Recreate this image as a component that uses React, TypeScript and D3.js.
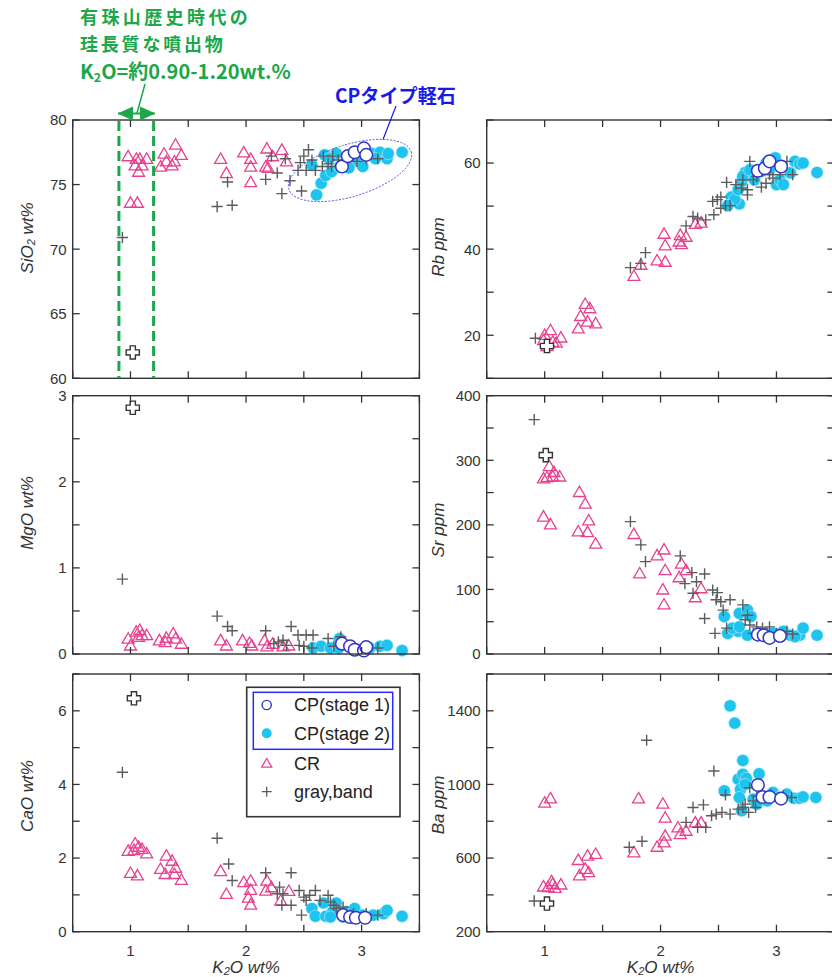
import React from "react";
import * as d3 from "d3";

const W = 832;
const H = 977;

// ---------- axis ticks ----------
const kTicks = [0.5, 1, 1.5, 2, 2.5, 3, 3.5];
const kTickLabels = [1, 2, 3];
const sio2Ticks = [60, 65, 70, 75, 80];
const sio2Labels = [60, 65, 70, 75, 80];
const mgoTicks = [0, 0.5, 1, 1.5, 2, 2.5, 3];
const mgoLabels = [0, 1, 2, 3];
const caoTicks = [0, 1, 2, 3, 4, 5, 6, 7];
const caoLabels = [0, 2, 4, 6];
const rbTicks = [10, 20, 30, 40, 50, 60, 70];
const rbLabels = [20, 40, 60];
const srTicks = [0, 50, 100, 150, 200, 250, 300, 350, 400];
const srLabels = [0, 100, 200, 300, 400];
const baTicks = [200, 400, 600, 800, 1000, 1200, 1400, 1600];
const baLabels = [200, 600, 1000, 1400];

const legendNames = ["CP(stage 1)", "CP(stage 2)", "CR", "gray,band"];

type P = [number, number];

// ---------- SiO2 ----------
const sio2CR: P[] = [[0.98,77.2],[1.05,77.0],[1.08,77.0],[1.04,76.5],[1.10,76.5],[1.07,76.0],[1.14,77.0],[1.0,73.6],[1.06,73.6],[1.26,76.4],[1.29,77.4],[1.31,76.8],[1.36,76.5],[1.38,76.8],[1.39,78.1],[1.44,77.3],[1.78,77.0],[1.83,75.9],[1.98,77.5],[2.04,77.0],[2.04,76.4],[2.04,75.2],[2.18,77.8],[2.17,76.4],[2.19,76.3],[2.23,77.2],[2.31,77.7],[2.35,76.8]];
const sio2GB: P[] = [[0.93,70.9],[1.75,73.3],[1.88,73.4],[1.84,75.2],[2.17,75.4],[2.27,75.9],[2.31,74.3],[2.38,75.3],[2.48,74.5],[2.22,77.2],[2.34,77.0],[2.47,76.7],[2.50,77.2],[2.54,77.7],[2.45,76.1],[2.52,76.1],[2.60,76.1],[2.57,76.9],[2.67,77.2],[2.71,76.6],[2.74,76.4],[2.75,77.2],[2.80,76.9],[2.87,77.2],[2.93,77.4],[2.96,76.8],[3.04,77.0],[3.14,77.0],[2.66,76.4]];
const sio2CP2: P[] = [[2.61,74.2],[2.65,75.1],[2.69,75.7],[2.74,76.0],[2.57,76.5],[2.68,77.3],[2.78,77.4],[2.87,76.6],[2.91,77.0],[2.97,76.8],[3.01,76.4],[3.04,77.3],[3.09,77.4],[3.16,77.5],[3.22,77.0],[3.23,77.4],[3.35,77.5],[2.81,76.4],[2.72,77.0],[2.89,76.3],[3.12,77.0]];
const sio2CP1: P[] = [[2.83,76.4],[2.88,77.2],[2.94,77.5],[3.02,77.8],[3.04,77.3]];
const sio2SP: P[] = [[1.02,62.0]];

// ---------- MgO ----------
const mgoCR: P[] = [[0.98,0.18],[1.0,0.10],[1.05,0.26],[1.07,0.20],[1.08,0.28],[1.10,0.22],[1.14,0.22],[1.25,0.16],[1.30,0.14],[1.37,0.24],[1.39,0.18],[1.44,0.12],[1.31,0.19],[1.78,0.16],[1.83,0.10],[1.97,0.16],[2.03,0.13],[2.05,0.10],[2.16,0.16],[2.18,0.09],[2.23,0.12],[2.32,0.09],[2.37,0.10]];
const mgoGB: P[] = [[0.93,0.87],[1.75,0.44],[1.84,0.32],[1.88,0.27],[2.17,0.27],[2.39,0.32],[2.24,0.12],[2.28,0.14],[2.32,0.16],[2.45,0.22],[2.52,0.22],[2.58,0.22],[2.46,0.10],[2.50,0.09],[2.57,0.07],[2.71,0.18],[2.82,0.20],[2.76,0.09],[3.14,0.07],[2.35,0.10]];
const mgoCP2: P[] = [[2.58,0.07],[2.65,0.09],[2.73,0.07],[2.81,0.18],[2.90,0.09],[2.97,0.05],[3.07,0.07],[3.16,0.09],[3.22,0.10],[3.35,0.04],[2.80,0.07]];
const mgoCP1: P[] = [[2.83,0.12],[2.90,0.09],[2.94,0.05],[3.02,0.04],[3.04,0.08]];
const mgoSP: P[] = [[1.02,2.86]];

// ---------- CaO ----------
const caoCR: P[] = [[0.98,2.20],[1.04,2.40],[1.07,2.31],[1.10,2.25],[1.14,2.13],[1.0,1.60],[1.06,1.53],[1.03,2.22],[1.26,1.71],[1.31,2.07],[1.30,1.57],[1.36,1.93],[1.39,1.74],[1.38,1.57],[1.44,1.41],[1.78,1.65],[1.83,1.03],[1.98,1.35],[2.04,1.39],[2.04,1.14],[2.02,0.93],[2.04,0.74],[2.18,1.39],[2.17,1.12],[2.22,1.21],[2.30,0.85],[2.37,1.11]];
const caoGB: P[] = [[0.93,4.33],[1.75,2.54],[1.85,1.84],[1.88,1.39],[2.17,1.60],[2.39,1.60],[2.29,1.21],[2.32,1.03],[2.27,1.03],[2.39,0.72],[2.31,0.72],[2.46,1.12],[2.50,0.94],[2.55,0.99],[2.60,1.12],[2.64,0.85],[2.71,0.99],[2.76,0.72],[2.78,0.63],[2.84,0.67],[2.48,0.45],[2.73,0.81],[2.93,0.49],[3.14,0.45],[3.04,0.49],[2.52,0.85]];
const caoCP2: P[] = [[2.57,0.63],[2.60,0.42],[2.67,0.78],[2.69,0.42],[2.75,0.54],[2.78,0.78],[2.87,0.54],[2.94,0.63],[3.01,0.45],[3.10,0.45],[3.19,0.49],[3.22,0.58],[3.35,0.42],[2.84,0.40],[2.73,0.40]];
const caoCP1: P[] = [[2.84,0.45],[2.90,0.40],[2.95,0.38],[3.03,0.38]];
const caoSP: P[] = [[1.03,6.34]];

// ---------- Rb ----------
const rbCR: P[] = [[0.99,18.9],[1.02,17.5],[1.05,21.2],[1.07,18.5],[1.10,18.3],[1.14,19.5],[1.0,20.1],[1.29,21.6],[1.31,24.5],[1.35,27.3],[1.39,26.3],[1.37,23.2],[1.44,22.8],[1.77,33.8],[1.83,36.4],[1.97,37.4],[2.03,43.6],[2.04,40.9],[2.04,37.1],[2.16,41.8],[2.17,43.3],[2.18,41.2],[2.22,42.9],[2.30,45.9],[2.35,46.2]];
const rbGB: P[] = [[0.92,19.3],[1.74,35.7],[1.83,36.7],[1.87,39.2],[2.22,45.4],[2.28,47.6],[2.32,47.2],[2.39,46.8],[2.45,51.1],[2.49,51.5],[2.52,52.1],[2.46,48.0],[2.52,49.5],[2.56,50.1],[2.60,50.1],[2.57,55.5],[2.65,55.0],[2.70,54.2],[2.75,53.8],[2.75,52.6],[2.77,60.4],[2.80,56.1],[2.83,56.9],[2.87,54.4],[2.91,55.3],[2.97,56.5],[3.03,57.3],[3.09,60.4],[3.14,57.3],[2.71,56.1],[2.94,57.3]];
const rbCP2: P[] = [[2.68,50.5],[2.61,52.1],[2.64,51.5],[2.58,50.1],[2.67,53.8],[2.70,55.7],[2.73,57.8],[2.71,56.9],[2.77,58.4],[2.81,56.1],[2.91,60.0],[2.99,61.2],[3.00,55.0],[3.03,56.1],[3.06,55.0],[3.12,57.7],[3.16,60.4],[3.20,59.8],[3.23,60.0],[3.35,57.8],[2.87,58.1],[2.94,58.4]];
const rbCP1: P[] = [[2.84,58.2],[2.90,58.8],[2.94,60.4],[3.04,59.2]];
const rbSP: P[] = [[1.02,17.5]];

// ---------- Sr ----------
const srCR: P[] = [[0.99,272],[1.02,274],[1.04,291],[1.07,275],[1.08,282],[1.13,275],[0.99,213],[1.05,201],[1.30,251],[1.35,233],[1.38,207],[1.29,190],[1.37,189],[1.44,171],[1.77,186],[1.82,125],[1.97,153],[2.03,162],[2.04,130],[2.02,100],[2.03,77],[2.18,140],[2.16,119],[2.22,130],[2.30,88],[2.35,102]];
const srGB: P[] = [[0.91,363],[1.74,205],[1.83,169],[1.87,143],[2.17,152],[2.21,109],[2.27,126],[2.31,112],[2.38,124],[2.38,55],[2.28,94],[2.45,99],[2.49,95],[2.48,84],[2.52,81],[2.60,84],[2.54,68],[2.47,32],[2.57,40],[2.71,76],[2.75,60],[2.77,45],[2.83,42],[2.88,40],[2.94,42],[3.09,35],[3.14,31],[2.73,53],[2.80,32],[3.00,32]];
const srCP2: P[] = [[2.55,58],[2.58,32],[2.67,35],[2.62,40],[2.68,63],[2.75,68],[2.78,58],[2.75,29],[2.90,32],[2.97,32],[3.06,35],[3.12,29],[3.20,29],[3.23,40],[3.35,29],[2.68,42],[3.16,27]];
const srCP1: P[] = [[2.84,30],[2.89,29],[2.94,25],[3.03,28]];
const srSP: P[] = [[1.01,308]];

// ---------- Ba ----------
const baCR: P[] = [[0.99,446],[1.0,902],[1.05,925],[1.03,443],[1.06,475],[1.07,461],[1.09,439],[1.14,457],[1.29,590],[1.30,506],[1.37,614],[1.35,542],[1.38,524],[1.44,623],[1.77,632],[1.81,925],[1.97,662],[2.02,896],[2.04,820],[2.04,722],[2.03,686],[2.15,767],[2.17,731],[2.22,749],[2.30,794],[2.35,794]];
const baGB: P[] = [[0.91,367],[1.73,659],[1.84,691],[1.88,1240],[2.22,794],[2.28,875],[2.37,889],[2.32,767],[2.39,767],[2.46,1073],[2.44,830],[2.48,839],[2.53,848],[2.56,943],[2.60,839],[2.67,866],[2.71,875],[2.76,848],[2.77,982],[2.80,911],[2.83,938],[2.73,893],[2.95,946],[3.06,938],[3.13,929],[2.82,875]];
const baCP2: P[] = [[2.60,1427],[2.64,1333],[2.55,965],[2.71,1130],[2.67,1028],[2.71,1055],[2.74,1033],[2.69,974],[2.68,929],[2.70,857],[2.85,1058],[2.80,920],[2.83,893],[2.97,956],[3.02,929],[3.09,947],[3.15,925],[3.20,925],[3.23,932],[3.34,929],[2.73,1000],[2.92,911]];
const baCP1: P[] = [[2.84,997],[2.88,932],[2.94,932],[3.04,923]];
const baSP: P[] = [[1.02,353]];

// ---------- layout ----------
const colX: [number, number][] = [[72.7, 419.4], [486.7, 834.4]];
const rowY: [number, number][] = [[120, 378.3], [395.7, 654], [674, 931.7]];

const C_CP1 = "#3434c4";
const C_CP2 = "#1ec4ee";
const C_CR = "#e8418f";
const C_GB = "#5c5c5c";
const C_AX = "#333333";
const C_GREEN = "#1ba74a";
const C_BLUE = "#1a1ae6";
const FONT = "'Liberation Sans', Arial, Helvetica, sans-serif";
const JFONT = "'Noto Sans CJK JP', 'Noto Sans', sans-serif";

const triPath = "M0,-5.8L6,4.6L-6,4.6Z";
const plusPath = "M-5.6,0H5.6M0,-5.6V5.6";
const crossPath = "M-2.6,-6.6H2.6V-2.6H6.6V2.6H2.6V6.6H-2.6V2.6H-6.6V-2.6H-2.6Z";

interface Panel {
  col: number;
  row: number;
  domain: [number, number];
  ticks: number[];
  labels: number[];
  title: [string, string, string];
  titleY: number;
  cr: P[];
  gb: P[];
  cp2: P[];
  cp1: P[];
  sp: P[];
}

const panels: Panel[] = [
  { col: 0, row: 0, domain: [60, 80], ticks: sio2Ticks, labels: sio2Labels, title: ["SiO", "2", " wt%"], titleY: 238, cr: sio2CR, gb: sio2GB, cp2: sio2CP2, cp1: sio2CP1, sp: sio2SP },
  { col: 0, row: 1, domain: [0, 3], ticks: mgoTicks, labels: mgoLabels, title: ["MgO wt%", "", ""], titleY: 513, cr: mgoCR, gb: mgoGB, cp2: mgoCP2, cp1: mgoCP1, sp: mgoSP },
  { col: 0, row: 2, domain: [0, 7], ticks: caoTicks, labels: caoLabels, title: ["CaO wt%", "", ""], titleY: 796, cr: caoCR, gb: caoGB, cp2: caoCP2, cp1: caoCP1, sp: caoSP },
  { col: 1, row: 0, domain: [10, 70], ticks: rbTicks, labels: rbLabels, title: ["Rb ppm", "", ""], titleY: 247, cr: rbCR, gb: rbGB, cp2: rbCP2, cp1: rbCP1, sp: rbSP },
  { col: 1, row: 1, domain: [0, 400], ticks: srTicks, labels: srLabels, title: ["Sr ppm", "", ""], titleY: 530, cr: srCR, gb: srGB, cp2: srCP2, cp1: srCP1, sp: srSP },
  { col: 1, row: 2, domain: [200, 1600], ticks: baTicks, labels: baLabels, title: ["Ba ppm", "", ""], titleY: 805, cr: baCR, gb: baGB, cp2: baCP2, cp1: baCP1, sp: baSP },
];

function PanelView({ p }: { p: Panel }) {
  const [x0, x1] = colX[p.col];
  const [y0, y1] = rowY[p.row];
  const x = d3.scaleLinear().domain([0.5, 3.5]).range([x0, x1]);
  const y = d3.scaleLinear().domain(p.domain).range([y1, y0]);
  const tl = 7;
  const titleX = p.col === 0 ? 33 : 444;
  const fmt = (v: number) => String(v);
  return (
    <g>
      <g>
        {p.cp2.map((d, i) => (
          <circle key={"c2" + i} cx={x(d[0])} cy={y(d[1])} r={6.1} fill={C_CP2} stroke="#bdefff" strokeWidth={0.6} />
        ))}
        {p.cr.map((d, i) => (
          <path key={"cr" + i} d={triPath} transform={`translate(${x(d[0])},${y(d[1])})`} fill="none" stroke={C_CR} strokeWidth={1.3} />
        ))}
        {p.gb.map((d, i) => (
          <path key={"gb" + i} d={plusPath} transform={`translate(${x(d[0])},${y(d[1])})`} fill="none" stroke={C_GB} strokeWidth={1.4} />
        ))}
        {p.cp1.map((d, i) => (
          <circle key={"c1" + i} cx={x(d[0])} cy={y(d[1])} r={6.3} fill="#fff" stroke={C_CP1} strokeWidth={1.5} />
        ))}
        {p.sp.map((d, i) => (
          <path key={"sp" + i} d={crossPath} transform={`translate(${x(d[0])},${y(d[1])})`} fill="#fff" stroke="#333" strokeWidth={1.4} />
        ))}
      </g>
      <rect x={x0} y={y0} width={x1 - x0} height={y1 - y0} fill="none" stroke={C_AX} strokeWidth={1.4} />
      {kTicks.map((t) => (
        <g key={"kt" + t}>
          <line x1={x(t)} x2={x(t)} y1={y0} y2={y0 + tl} stroke={C_AX} strokeWidth={1.3} />
          <line x1={x(t)} x2={x(t)} y1={y1} y2={y1 - tl} stroke={C_AX} strokeWidth={1.3} />
        </g>
      ))}
      {p.ticks.map((t) => (
        <g key={"yt" + t}>
          <line x1={x0} x2={x0 + tl} y1={y(t)} y2={y(t)} stroke={C_AX} strokeWidth={1.3} />
          <line x1={x1} x2={x1 - tl} y1={y(t)} y2={y(t)} stroke={C_AX} strokeWidth={1.3} />
        </g>
      ))}
      {p.labels.map((t) => (
        <text key={"yl" + t} x={x0 - 6} y={y(t)} dy="0.36em" textAnchor="end" fontFamily={FONT} fontSize={15} fill={C_AX}>
          {fmt(t)}
        </text>
      ))}
      {p.row === 2 &&
        kTickLabels.map((t) => (
          <text key={"xl" + t} x={x(t)} y={956} textAnchor="middle" fontFamily={FONT} fontSize={15} fill={C_AX}>
            {fmt(t)}
          </text>
        ))}
      {p.row === 2 && (
        <text x={x(2)} y={973} textAnchor="middle" fontFamily={FONT} fontSize={17} fontStyle="italic" fill={C_AX}>
          <tspan>K</tspan>
          <tspan fontSize={11} dy={2}>2</tspan>
          <tspan dy={-2}>O wt%</tspan>
        </text>
      )}
      <text transform={`translate(${titleX},${p.titleY}) rotate(-90)`} textAnchor="middle" fontFamily={FONT} fontSize={17} fontStyle="italic" fill={C_AX}>
        <tspan>{p.title[0]}</tspan>
        {p.title[1] && <tspan fontSize={11} dy={2}>{p.title[1]}</tspan>}
        {p.title[2] && <tspan dy={-2}>{p.title[2]}</tspan>}
      </text>
    </g>
  );
}

function Legend() {
  const rows = [705, 733.3, 763.3, 791.7];
  const sx = 266.7;
  const tx = 294;
  return (
    <g>
      <rect x={246.7} y={687.3} width={153.3} height={129.4} fill="#fff" stroke={C_AX} strokeWidth={1.6} />
      <rect x={253.3} y={692.3} width={139.4} height={57} fill="none" stroke="#2a2aff" strokeWidth={1.5} />
      <circle cx={sx} cy={rows[0]} r={4.6} fill="#fff" stroke={C_CP1} strokeWidth={1.4} />
      <circle cx={sx} cy={rows[1]} r={5} fill={C_CP2} />
      <path d="M0,-4.8L5,3.8L-5,3.8Z" transform={`translate(${sx},${rows[2]})`} fill="none" stroke={C_CR} strokeWidth={1.3} />
      <path d="M-5,0H5M0,-5V5" transform={`translate(${sx},${rows[3]})`} fill="none" stroke={C_GB} strokeWidth={1.3} />
      {legendNames.map((n, i) => (
        <text key={n} x={tx} y={rows[i]} dy="0.36em" fontFamily={FONT} fontSize={18} fill="#222">
          {n}
        </text>
      ))}
    </g>
  );
}

function Annotations() {
  const xl = d3.scaleLinear().domain([0.5, 3.5]).range(colX[0]);
  const [y0, y1] = rowY[0];
  return (
    <g>
      <text x={80} y={24} fontFamily={JFONT} fontWeight="bold" fontSize={18} letterSpacing={3.4} fill={C_GREEN}>有珠山歴史時代の</text>
      <text x={80} y={50.5} fontFamily={JFONT} fontWeight="bold" fontSize={18} letterSpacing={2.8} fill={C_GREEN}>珪長質な噴出物</text>
      <text x={80} y={79} fontFamily={JFONT} fontWeight="bold" fontSize={20} fill={C_GREEN}>
        <tspan>K</tspan>
        <tspan fontSize={12.5} dy={3}>2</tspan>
        <tspan dy={-3}>O=約0.90-1.20wt.%</tspan>
      </text>
      <line x1={145} y1={84} x2={137} y2={113} stroke={C_GREEN} strokeWidth={1.5} />
      <line x1={118} y1={113.5} x2={155} y2={113.5} stroke={C_GREEN} strokeWidth={2} />
      <path d="M117.5,113.5L133,106.5L133,120.5Z" fill={C_GREEN} />
      <path d="M155.5,113.5L140,106.5L140,120.5Z" fill={C_GREEN} />
      <line x1={xl(0.9)} x2={xl(0.9)} y1={y0 + 1} y2={y1} stroke={C_GREEN} strokeWidth={3} strokeDasharray="10 5" />
      <line x1={xl(1.2)} x2={xl(1.2)} y1={y0 + 1} y2={y1} stroke={C_GREEN} strokeWidth={3} strokeDasharray="10 5" />
      <text x={335} y={103} fontFamily={JFONT} fontWeight="bold" fontSize={19.5} textLength={121} lengthAdjust="spacingAndGlyphs" fill={C_BLUE}>CPタイプ軽石</text>
      <line x1={396} y1={106} x2={383} y2={139.5} stroke={C_BLUE} strokeWidth={1.2} />
      <ellipse cx={350} cy={170.5} rx={64} ry={26} transform="rotate(-17 350 170.5)" fill="none" stroke="#3a3ae0" strokeWidth={0.8} strokeDasharray="2 1.5" />
    </g>
  );
}

export default function App() {
  return (
    <svg width={W} height={H} viewBox={`0 0 ${W} ${H}`} style={{ position: "absolute", left: 0, top: 0, background: "#fff" }}>
      <rect x={0} y={0} width={W} height={H} fill="#fff" />
      {panels.map((p, i) => (
        <PanelView key={i} p={p} />
      ))}
      <Legend />
      <Annotations />
    </svg>
  );
}
